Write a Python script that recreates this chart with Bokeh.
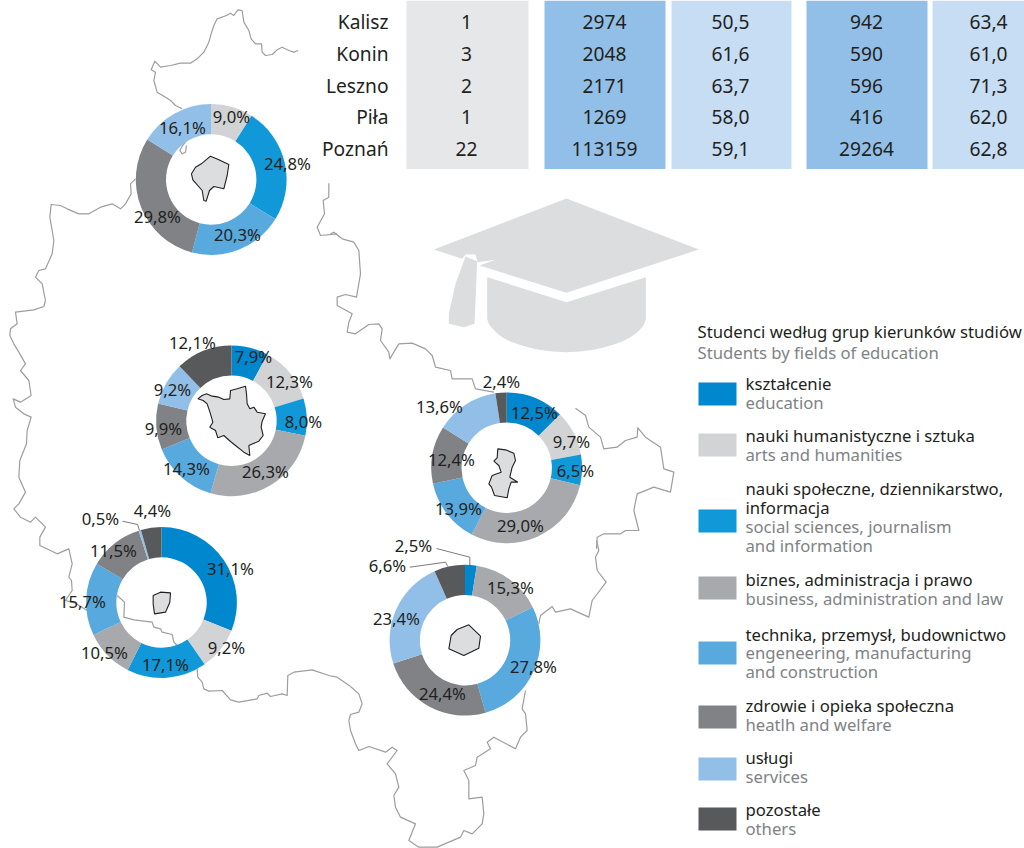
from math import pi
from bokeh.plotting import figure
from bokeh.models import ColumnDataSource, Range1d
from bokeh.core.properties import value
from bokeh.embed import file_html
from bokeh.resources import INLINE

# ---------- data ----------
cities = ["Kalisz", "Konin", "Leszno", "Piła", "Poznań"]
col_schools = ["1", "3", "2", "1", "22"]
col_students = ["2974", "2048", "2171", "1269", "113159"]
col_students_pct = ["50,5", "61,6", "63,7", "58,0", "59,1"]
col_grads = ["942", "590", "596", "416", "29264"]
col_grads_pct = ["63,4", "61,0", "71,3", "62,0", "62,8"]

field_pl = ["kształcenie", "nauki humanistyczne i sztuka", "nauki społeczne, dziennikarstwo,\ninformacja",
            "biznes, administracja i prawo", "technika, przemysł, budownictwo",
            "zdrowie i opieka społeczna", "usługi", "pozostałe"]
field_en = ["education", "arts and humanities", "social sciences, journalism\nand information",
            "business, administration and law", "engeneering, manufacturing\nand construction",
            "heatlh and welfare", "services", "others"]
field_colors = ["#0087CD", "#D1D3D4", "#1198D8", "#A7A9AC", "#58A9DE", "#808285", "#92BFE7", "#58595B"]

# shares per field (field index, percent), clockwise from 12 o'clock
pila_share = [(1, 9.0), (2, 24.8), (4, 20.3), (5, 29.8), (6, 16.1)]
konin_share = [(0, 7.9), (1, 12.3), (2, 8.0), (3, 26.3), (4, 14.3), (5, 9.9), (6, 9.2), (7, 12.1)]
leszno_share = [(0, 31.1), (1, 9.2), (2, 17.1), (3, 10.5), (4, 15.7), (5, 11.5), (6, 0.5), (7, 4.4)]
poznan_share = [(0, 12.5), (1, 9.7), (2, 6.5), (3, 29.0), (4, 13.9), (5, 12.4), (6, 13.6), (7, 2.4)]
kalisz_share = [(0, 2.5), (3, 15.3), (4, 27.8), (5, 24.4), (6, 23.4), (7, 6.6)]

# ---------- geometry ----------
def z(pts, ox=0, oy=0):
    return [ox + a / 3 for a, b in pts], [oy + b / 3 for a, b in pts]

map_top = [(893,150),(880,155),(865,150),(845,140),(830,148),(815,162),(795,165),(785,155),(783,130),(765,130),(752,115),(745,90),(730,65),(725,30),(712,28),(700,45),(690,38),(678,45),(650,55),(640,75),(632,100),(625,125),(610,155),(590,175),(570,188),(540,188),(510,195),(480,200),(463,182),(452,208),(465,215),(460,240),(470,275),(495,290),(510,300),(525,315),(545,325)]
map_hole = [(555,425),(545,437),(538,450),(545,460),(555,455),(558,435)]
map_west1 = [(405,535),(390,550),(392,580),(375,610),(360,625),(335,610),(300,620),(265,640),(235,640),(200,625),(180,615),(152,612),(148,650),(155,690),(160,720),(155,760),(135,805),(115,810),(105,830),(125,850),(135,900)]
map_west2 = [(135,0),(130,18),(100,28),(45,35),(50,70),(30,85),(28,105),(40,130),(55,155),(75,190),(60,210),(85,240),(92,285),(60,305),(38,295),(45,320),(70,340),(92,350),(80,390),(78,430),(58,480),(55,530),(75,575),(55,610),(40,625),(60,650),(90,665),(105,650),(135,680),(118,710),(118,735),(150,750),(170,760),(205,745),(215,790),(205,830),(213,840),(215,870),(195,900),(225,908),(260,930)]
map_south1a = [(350,105),(372,125),(370,170),(400,178),(455,185),(460,200),(480,205),(485,215),(515,222),(520,245),(530,255)]
map_south1b = [(590,325),(592,350),(605,365),(610,385),(625,392),(665,390),(690,418),(715,425),(770,415),(775,405),(800,398),(810,408),(845,400),(860,405),(862,345),(880,335),(935,328),(985,345),(1010,350),(1050,378)]
map_south2 = [(0,438),(25,460),(35,490),(25,515),(0,522),(-5,540),(0,570),(15,610),(25,630),(55,618),(105,635),(125,620),(140,630),(110,670),(135,700),(145,740),(130,765),(135,800),(150,830),(195,850),(175,900),(205,920),(260,920),(330,890),(340,870),(365,880),(395,850),(400,820),(395,770),(355,775),(355,720),(340,690),(375,675),(380,650),(420,625),(410,605),(430,590),(495,625),(510,590),(530,570),(525,520),(515,505),(525,450)]
map_east1 = [(565,250),(570,225),(605,198),(615,215),(660,205),(715,230),(725,180),(767,125),(740,90),(735,50),(745,30),(738,0)]
map_east2 = [(798,1135),(800,1100),(820,1090),(870,1090),(885,1080),(925,1080),(910,1020),(920,970),(970,950),(1020,965),(1030,905),(1000,895),(990,830),(945,800),(922,772),(920,800),(885,810),(860,830),(820,835),(810,800),(775,770),(765,735),(735,713)]
map_north1 = [(490,665),(435,655),(425,625),(365,625),(360,600),(315,590),(305,555),(285,535),(245,518),(205,520),(178,565),(175,545),(150,510),(155,475),(145,460),(115,462),(75,490),(50,485),(55,455),(65,430),(20,405),(20,380),(45,372),(78,380),(90,310),(85,240),(70,215),(35,205),(10,185),(0,190)]
map_north2 = [(1010,700),(960,705),(950,680),(972,640),(968,600),(985,590),(985,548)]

map_parts = [z(map_top), z(map_hole), z(map_west1), z(map_west2, 0, 300), z(map_south1a, 0, 560), z(map_south1b, 0, 560),
             z(map_south2, 350, 540), z(map_east1, 350, 540), z(map_east2, 330, 170), z(map_north1, 330, 170), z(map_north2)]

city_pila = z([(75,17),(100,28),(130,42),(125,75),(115,115),(85,108),(72,120),(62,152),(55,150),(50,120),(22,88),(18,70),(30,50),(50,38)], 185, 150)
city_konin = z([(22,55),(35,45),(48,40),(65,47),(85,50),(100,57),(118,55),(120,30),(140,25),(165,17),(168,40),(170,70),(178,85),(190,80),(200,95),(225,100),(215,122),(212,140),(218,165),(205,182),(175,195),(178,225),(160,215),(135,195),(120,183),(100,165),(82,172),(75,150),(58,140),(67,125),(60,100),(50,70),(38,60)], 190, 380)
city_leszno = z([(458,105),(480,95),(510,97),(508,125),(495,155),(462,160),(458,130)], 0, 560)
city_poznan = z([(52,25),(75,28),(100,38),(105,60),(95,80),(88,110),(112,125),(92,125),(85,145),(80,172),(42,165),(33,140),(25,130),(35,105),(62,95),(55,75),(40,62),(50,52)], 480, 440)
city_kalisz = z([(85,28),(120,62),(115,98),(70,120),(25,100),(32,60),(50,42)], 440, 615)

hat_top = z([(310,237),(708,84),(1105,237),(708,367),(447,285),(495,268),(442,275),(435,252),(405,252),(395,265)], 330, 170)
hat_tassel = z([(405,258),(440,272),(432,460),(400,470),(355,460),(355,430),(375,340)], 330, 170)
hat_base = z([(470,320),(708,395),(946,320),(946,445),(942,458),(935,470),(920,486),(900,500),(877,512),(850,522),(820,531),(790,538),(750,543),(708,545),(666,543),(625,538),(595,531),(565,522),(538,512),(515,500),(497,486),(482,470),(474,458),(470,445)], 330, 170)

donut_layout = [
    (pila_share, 210.7, 179.0, [(231,116),(287,163),(237,234),(157,216),(182,127)]),
    (konin_share, 231.0, 420.3, [(253,356),(289,381),(303,421),(265,471),(186,468),(163,428),(172,389),(192,342)]),
    (leszno_share, 161.0, 602.0, [(230,568),(226,647),(165,664),(104,652),(82,601),(113,550),(100,518),(152,510)]),
    (poznan_share, 506.2, 467.3, [(534,412),(571,441),(575,470),(520,525),(458,508),(451,459),(439,406),(501,381)]),
    (kalisz_share, 464.5, 639.7, [(413,545),(510,587),(533,666),(442,693),(396,618),(387,565)]),
]
R_OUT, R_IN = 75.4, 45.2
leaders = [[(122,520.7),(137,524),(139,530)], [(436,548),(469.3,556.7),(469.3,565)], [(409.3,566.7),(445,561.7),(447.3,566)]]

FONT = value("Noto Sans")
INK, GREY = "#231F20", "#808285"

p = figure(width=1024, height=848, x_range=Range1d(0, 1024), y_range=Range1d(848, 0),
           output_backend="svg", toolbar_location=None, min_border=0,
           x_axis_type=None, y_axis_type=None, background_fill_color="white", border_fill_color="white")
p.outline_line_color = None
p.grid.visible = False

# map
p.multi_line([a for a, b in map_parts], [b for a, b in map_parts], line_color="#9B9DA0", line_width=1.2, line_join="round")

# hat
for part in (hat_top, hat_tassel, hat_base):
    p.patch(part[0], part[1], fill_color="#DCDDDE", line_color=None)

# table
tx0 = [406, 544, 671, 806, 932]
tx1 = [528, 665, 791, 927, 1024]
tcol = ["#E6E7E8", "#92BFE7", "#C6DDF3", "#92BFE7", "#C6DDF3"]
p.quad(left=tx0, right=tx1, top=[0] * 5, bottom=[168.5] * 5, fill_color=tcol, line_color=None)
row_y = [21, 53, 85, 116, 148]
p.text(x=[388] * 5, y=row_y, text=cities, text_align="right", text_baseline="middle", text_font=FONT,
       text_font_size="19.2px", text_color=INK)
for cx, col in zip([466, 604, 730, 866, 988], [col_schools, col_students, col_students_pct, col_grads, col_grads_pct]):
    p.text(x=[cx] * 5, y=row_y, text=col, text_align="center", text_baseline="middle", text_font=FONT,
           text_font_size="19.2px", text_color=INK)

# donuts
for share, cx, cy, pos in donut_layout:
    start, end, cols, cum = [], [], [], 0.0
    total = sum(v for _, v in share)
    for idx, v in share:
        start.append(pi / 2 - 2 * pi * cum / total)
        cum += v
        end.append(pi / 2 - 2 * pi * cum / total)
        cols.append(field_colors[idx])
    src = ColumnDataSource(dict(start=start, end=end, color=cols))
    p.annular_wedge(x=cx, y=cy, inner_radius=R_IN, outer_radius=R_OUT, start_angle="start", end_angle="end",
                    direction="clock", fill_color="color", line_color=None, source=src)

for pts in leaders:
    p.line([a for a, b in pts], [b for a, b in pts], line_color="#58595B", line_width=0.8)

for part in (city_pila, city_konin, city_leszno, city_poznan, city_kalisz):
    p.patch(part[0], part[1], fill_color="#DCDDDE", line_color="#231F20", line_width=1.1)

for share, cx, cy, pos in donut_layout:
    labels = [f"{v:.1f}".replace(".", ",") + "%" for _, v in share]
    p.text(x=[a for a, b in pos], y=[b for a, b in pos], text=labels, text_align="center", text_baseline="middle",
           text_font=FONT, text_font_size="16.7px", text_color=INK)

# legend
p.text(x=[697, 697], y=[331, 352], text=["Studenci według grup kierunków studiów", "Students by fields of education"],
       text_baseline="middle", text_font=FONT, text_font_size="16.7px", text_color=[INK, GREY])
sw_top = [382, 433, 509, 576, 641, 705, 757, 807]
p.quad(left=[698] * 8, right=[736] * 8, top=sw_top, bottom=[t + 23 for t in sw_top], fill_color=field_colors, line_color=None)
line_y = [[383, 402], [435, 454], [488, 507, 526, 545], [579, 598], [634, 652, 671], [705, 724], [757, 776], [809, 828]]
tx, ty, tt, tc = [], [], [], []
for pl, en, ys in zip(field_pl, field_en, line_y):
    rows = [(s, INK) for s in pl.split("\n")] + [(s, GREY) for s in en.split("\n")]
    for (s, c), y in zip(rows, ys):
        tx.append(745); ty.append(y); tt.append(s); tc.append(c)
p.text(x=tx, y=ty, text=tt, text_baseline="middle", text_font=FONT, text_font_size="16.7px", text_color=tc)

open("out.html", "w").write(file_html(p, INLINE))
